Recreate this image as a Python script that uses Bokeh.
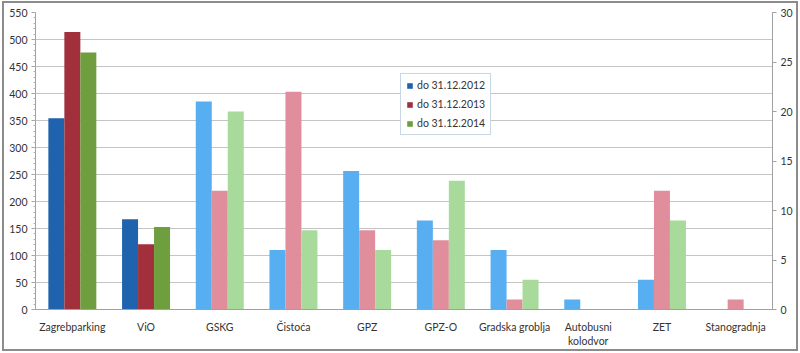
from bokeh.plotting import figure
from bokeh.models import (Range1d, FactorRange, LinearAxis, FixedTicker, ColumnDataSource,
                          Legend, LegendItem)
from bokeh.transform import dodge
from bokeh.embed import file_html
from bokeh.resources import INLINE

categories = ["Zagrebparking", "ViO", "GSKG", "Čistoća", "GPZ", "GPZ-O",
              "Gradska groblja", "Autobusni\nkolodvor", "ZET", "Stanogradnja"]
series = ["do 31.12.2012", "do 31.12.2013", "do 31.12.2014"]

# first two companies on the left axis (0-550)
left_cats = categories[:2]
left_2012 = [354, 167]
left_2013 = [514, 121]
left_2014 = [476, 153]

# remaining companies on the right axis (0-30)
right_cats = categories[2:]
right_2012 = [21, 6, 14, 9, 6, 1, 3, 0]
right_2013 = [12, 22, 8, 7, 1, 0, 12, 1]
right_2014 = [20, 8, 6, 13, 3, 0, 9, 0]

left_ticks = list(range(0, 551, 50))
right_ticks = list(range(0, 31, 5))

dark_colors = ["#1F63AE", "#A2303C", "#6E9E3E"]
light_colors = ["#57AEF0", "#E08E9B", "#A8DA9C"]

FONT = "Lato"
FS = "10.5px"

src_l = ColumnDataSource(dict(cat=left_cats, a=left_2012, b=left_2013, c=left_2014))
src_r = ColumnDataSource(dict(cat=right_cats, a=right_2012, b=right_2013, c=right_2014))

p = figure(x_range=FactorRange(*categories, range_padding=0.0),
           y_range=Range1d(0, 550),
           width=792, height=345, frame_width=737, frame_height=297,
           min_border_left=31, min_border_right=24, min_border_top=9, min_border_bottom=39,
           output_backend="svg", toolbar_location=None)
p.styles = {"border": "2px solid #8C8C8C", "margin": "1px 0 0 2px"}
p.extra_y_ranges = {"right": Range1d(0, 30)}

bw = 0.217
offsets = [-bw, 0.0, bw]
cols = ["a", "b", "c"]
legend_items = []
for i in range(3):
    r = p.vbar(x=dodge("cat", offsets[i], range=p.x_range), top=cols[i], width=bw,
               source=src_l, fill_color=dark_colors[i], line_color=None)
    legend_items.append(LegendItem(label=series[i], renderers=[r]))
    p.vbar(x=dodge("cat", offsets[i], range=p.x_range), top=cols[i], width=bw,
           source=src_r, fill_color=light_colors[i], line_color=None, y_range_name="right")

# axes
p.yaxis.ticker = FixedTicker(ticks=left_ticks, minor_ticks=list(range(0, 551, 10)))
ra = LinearAxis(y_range_name="right", ticker=FixedTicker(ticks=right_ticks))
p.add_layout(ra, "right")

for ax in [p.yaxis[0], ra]:
    ax.axis_line_color = "#A0A0A0"
    ax.major_tick_line_color = "#A0A0A0"
    ax.major_tick_out = 4
    ax.major_tick_in = 0
    ax.major_label_text_font = FONT
    ax.major_label_text_font_size = FS
    ax.major_label_text_color = "#333333"
    ax.major_label_standoff = 4
p.yaxis[0].minor_tick_line_color = "#B0B0B0"
p.yaxis[0].minor_tick_out = 2
p.yaxis[0].minor_tick_in = 0
ra.minor_tick_line_color = None

p.xaxis.axis_line_color = "#A0A0A0"
p.xaxis.major_tick_line_color = None
p.xaxis.major_label_text_font = FONT
p.xaxis.major_label_text_font_size = FS
p.xaxis.major_label_text_color = "#333333"
p.xaxis.major_label_standoff = 5

p.xgrid.grid_line_color = None
p.ygrid.ticker = FixedTicker(ticks=left_ticks)
p.ygrid.grid_line_color = "#C4C4C4"
p.outline_line_color = None

legend = Legend(items=legend_items, location=(365, 174))
legend.label_text_font = FONT
legend.label_text_font_size = FS
legend.label_text_color = "#333333"
legend.glyph_width = 7
legend.glyph_height = 7
legend.label_height = 11
legend.label_standoff = 4
legend.spacing = 7
legend.padding = 5
legend.margin = 0
legend.border_line_color = "#8FB0CC"
legend.border_line_width = 1
p.add_layout(legend, "center")

open("out.html", "w").write(file_html(p, INLINE))
